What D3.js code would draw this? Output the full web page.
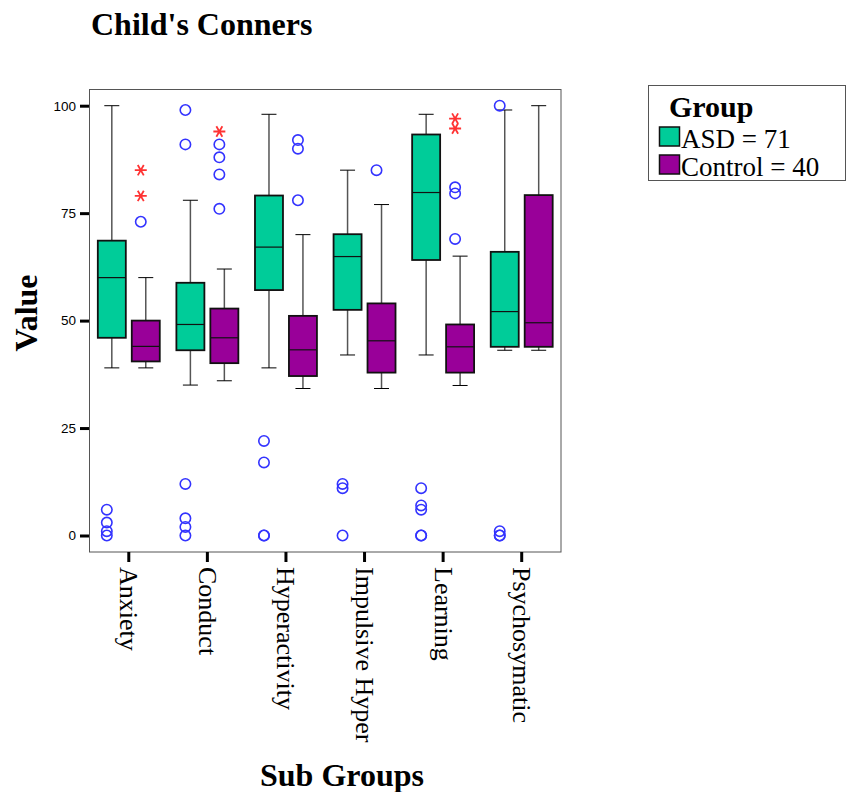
<!DOCTYPE html>
<html>
<head>
<meta charset="utf-8">
<script src="https://cdn.jsdelivr.net/npm/d3@7"></script>
<style>
  body { margin: 0; background: #fff; }
  svg { display: block; }
</style>
</head>
<body>
<svg id="chart" width="848" height="792"></svg>
<script>
// ---------- DATA ----------
const categories = ["Anxiety", "Conduct", "Hyperactivity", "Impulsive Hyper", "Learning", "Psychosymatic"];
const groups = ["ASD", "Control"];
const legendLabels = ["ASD = 71", "Control = 40"];
const yTicks = [0, 25, 50, 75, 100];

// [lower whisker, Q1, median, Q3, upper whisker]
const asdBox = [
  [39, 46, 60, 68.6, 100],
  [35, 43.1, 49.1, 58.8, 78],
  [39, 57.1, 67.1, 79.1, 98],
  [42, 52.5, 64.9, 70.1, 85],
  [42, 64.1, 79.8, 93.3, 98],
  [43.1, 43.9, 52.1, 66, 99]
];
const controlBox = [
  [39, 40.5, 44, 50, 60],
  [36, 40.1, 46, 52.8, 62],
  [34.2, 37.1, 43.2, 51.1, 70],
  [34.2, 37.9, 45.3, 54, 77],
  [34.9, 37.9, 43.9, 49.1, 65],
  [43.1, 43.9, 49.5, 79.2, 100]
];
// outliers (circles)
const asdOutliers = [
  [6, 3, 1, 0],
  [99, 91, 12, 4, 2, 0],
  [22, 17, 0, 0],
  [12, 11, 0],
  [11, 7, 6, 0, 0],
  [100, 1, 0, 0]
];
const controlOutliers = [
  [73],
  [91, 88, 84, 76],
  [92, 90, 78],
  [85],
  [81, 79.6, 69],
  []
];
// extremes (asterisks)
const asdExtremes = [[], [], [], [], [], []];
const controlExtremes = [
  [85, 79],
  [94],
  [],
  [],
  [97, 94.7],
  []
];

const colors = { ASD: "#00cc99", Control: "#990099" };

// ---------- LAYOUT ----------
const svg = d3.select("#chart");
const frame = { left: 89.5, right: 561, top: 89.5, bottom: 552 };

const x = d3.scaleBand().domain(categories).range([frame.left, frame.right]).padding(0);
const xg = d3.scalePoint().domain(groups).range([0, x.bandwidth()]).padding(0.657);
const y = d3.scaleLinear().domain([0, 100]).range([535.5, 105.7]);

const boxW = 28, capW = 15, outOffset = -5;
const serif = "Liberation Serif, Times New Roman, serif";

// frame
svg.append("rect")
  .attr("x", frame.left).attr("y", frame.top)
  .attr("width", frame.right - frame.left).attr("height", frame.bottom - frame.top)
  .attr("fill", "#fff").attr("stroke", "#555").attr("stroke-width", 1);

// y axis
const yAxis = d3.axisLeft(y).tickValues(yTicks).tickSize(9).tickPadding(4).tickFormat(d3.format("d"));
const yg = svg.append("g").attr("transform", `translate(${frame.left - 0.5},0)`).call(yAxis);
yg.select(".domain").remove();
yg.selectAll(".tick line").attr("stroke", "#000").attr("stroke-width", 3);
yg.selectAll(".tick text").attr("font-family", "Liberation Sans, Arial, sans-serif").attr("font-size", 13.5).attr("fill", "#000");

// x axis
const xAxis = d3.axisBottom(x).tickSize(10).tickPadding(0);
const xgAxis = svg.append("g").attr("transform", `translate(0,${frame.bottom})`).call(xAxis);
xgAxis.select(".domain").remove();
xgAxis.selectAll(".tick line").attr("stroke", "#000").attr("stroke-width", 3);
xgAxis.selectAll(".tick text")
  .attr("font-family", serif).attr("font-size", 26).attr("fill", "#000")
  .attr("text-anchor", "start")
  .attr("transform", "translate(0,15) rotate(90)")
  .attr("x", 0).attr("y", 0).attr("dy", "0.33em");

// boxes
const series = [
  { g: "ASD", box: asdBox, out: asdOutliers, ext: asdExtremes },
  { g: "Control", box: controlBox, out: controlOutliers, ext: controlExtremes }
];

const plot = svg.append("g");
series.forEach(s => {
  categories.forEach((c, i) => {
    const cx = x(c) + xg(s.g);
    const [lo, q1, med, q3, hi] = s.box[i];
    const g = plot.append("g");
    // whiskers
    g.append("line").attr("x1", cx).attr("x2", cx).attr("y1", y(hi)).attr("y2", y(q3))
      .attr("stroke", "#555").attr("stroke-width", 1.5);
    g.append("line").attr("x1", cx).attr("x2", cx).attr("y1", y(q1)).attr("y2", y(lo))
      .attr("stroke", "#555").attr("stroke-width", 1.5);
    [hi, lo].forEach(v => {
      g.append("line").attr("x1", cx - capW / 2).attr("x2", cx + capW / 2).attr("y1", y(v)).attr("y2", y(v))
        .attr("stroke", "#000").attr("stroke-width", 1);
    });
    // box
    g.append("rect").attr("x", cx - boxW / 2).attr("y", y(q3))
      .attr("width", boxW).attr("height", y(q1) - y(q3))
      .attr("fill", colors[s.g]).attr("stroke", "#111").attr("stroke-width", 1.8);
    // median
    g.append("line").attr("x1", cx - boxW / 2).attr("x2", cx + boxW / 2).attr("y1", y(med)).attr("y2", y(med))
      .attr("stroke", "#111").attr("stroke-width", 1.2);
    // outliers
    s.out[i].forEach(v => {
      g.append("circle").attr("cx", cx + outOffset).attr("cy", y(v)).attr("r", 5.2)
        .attr("fill", "none").attr("stroke", "#3333ff").attr("stroke-width", 1.6);
    });
    // extremes (6-arm asterisk)
    s.ext[i].forEach(v => {
      const px = cx + outOffset, py = y(v), r = 6;
      const path = d3.path();
      [0, 60, 120].forEach(a => {
        const rad = a * Math.PI / 180;
        path.moveTo(px - r * Math.cos(rad), py - r * Math.sin(rad));
        path.lineTo(px + r * Math.cos(rad), py + r * Math.sin(rad));
      });
      g.append("path").attr("d", path.toString()).attr("stroke", "#ff3333").attr("stroke-width", 1.8).attr("fill", "none");
    });
  });
});

// titles
svg.append("text").attr("x", 91).attr("y", 35)
  .attr("font-family", serif).attr("font-weight", "bold").attr("font-size", 32)
  .text("Child's Conners");

svg.append("text").attr("transform", "translate(37,313) rotate(-90)").attr("text-anchor", "middle")
  .attr("font-family", serif).attr("font-weight", "bold").attr("font-size", 32)
  .text("Value");

svg.append("text").attr("x", 342).attr("y", 786).attr("text-anchor", "middle")
  .attr("font-family", serif).attr("font-weight", "bold").attr("font-size", 32)
  .text("Sub Groups");

// legend
const lg = svg.append("g");
lg.append("rect").attr("x", 648.5).attr("y", 85.5).attr("width", 197).attr("height", 95)
  .attr("fill", "#fff").attr("stroke", "#555").attr("stroke-width", 1);
lg.append("text").attr("x", 669).attr("y", 117)
  .attr("font-family", serif).attr("font-weight", "bold").attr("font-size", 30)
  .text("Group");
groups.forEach((gname, i) => {
  const yy = 127 + i * 28;
  lg.append("rect").attr("x", 659.5).attr("y", yy).attr("width", 20).attr("height", 19)
    .attr("fill", colors[gname]).attr("stroke", "#111").attr("stroke-width", 1.5);
  lg.append("text").attr("x", 681).attr("y", yy + 21)
    .attr("font-family", serif).attr("font-size", 27)
    .text(legendLabels[i]);
});
</script>
</body>
</html>
